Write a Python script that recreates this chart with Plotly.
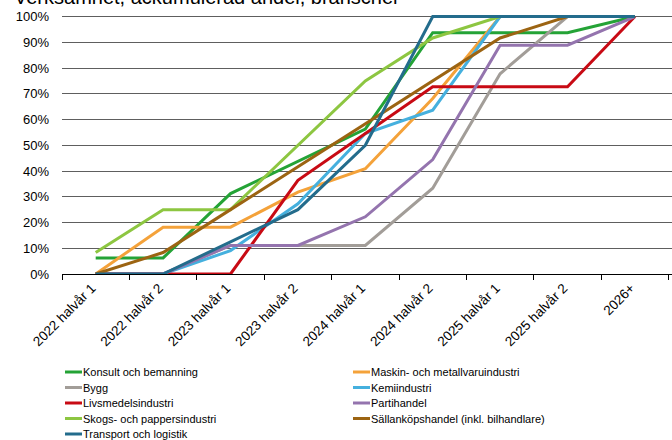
import plotly.graph_objects as go

# Half-year periods on the x axis
periods = ["2022 halvår 1", "2022 halvår 2", "2023 halvår 1", "2023 halvår 2",
           "2024 halvår 1", "2024 halvår 2", "2025 halvår 1", "2025 halvår 2", "2026+"]

# Cumulative share per industry (percent)
konsult = [6.25, 6.25, 31.25, 43.75, 56.25, 93.75, 93.75, 93.75, 100]
maskin = [0, 18.18, 18.18, 31.82, 40.91, 68.18, 100, 100, 100]
bygg = [0, 0, 11.11, 11.11, 11.11, 33.33, 77.78, 100, 100]
kemi = [0, 0, 9.09, 27.27, 54.55, 63.64, 100, 100, 100]
livsmedel = [0, 0, 0, 36.36, 54.55, 72.73, 72.73, 72.73, 100]
partihandel = [0, 0, 11.11, 11.11, 22.22, 44.44, 88.89, 88.89, 100]
skogs = [8.33, 25, 25, 50, 75, 91.67, 100, 100, 100]
sallankop = [0, 8.33, 25, 41.67, 58.33, 75, 91.67, 100, 100]
transport = [0, 0, 12.5, 25, 50, 100, 100, 100, 100]

series_names = ["Konsult och bemanning", "Maskin- och metallvaruindustri", "Bygg",
                "Kemiindustri", "Livsmedelsindustri", "Partihandel",
                "Skogs- och pappersindustri", "Sällanköpshandel (inkl. bilhandlare)",
                "Transport och logistik"]
series_values = [konsult, maskin, bygg, kemi, livsmedel, partihandel, skogs,
                 sallankop, transport]
series_colors = ["#24A336", "#F4A23A", "#A29D98", "#45B0DE", "#C80A14",
                 "#9474AE", "#8DC641", "#9C6412", "#236C8C"]

title_text = "Verksamhet, ackumulerad andel, branscher"

FONT = "Liberation Sans, Arial, sans-serif"
W, H = 672, 440
L, R, T, B = 62, 0, 15, 166
plot_w = W - L - R
plot_h = H - T - B

fig = go.Figure()
for name, vals, col in zip(series_names, series_values, series_colors):
    fig.add_trace(go.Scatter(
        x=periods, y=[v / 100 for v in vals], name=name, mode="lines",
        line=dict(color=col, width=3), showlegend=False,
    ))


def px_to_paper_x(px):
    return (px - L) / plot_w


def px_to_paper_y(py):
    return (H - B - py) / plot_h


# Two-column legend below the plot, filled row by row
shapes = []
annotations = []
row_y = [372, 387.5, 403, 418.5, 434]
col_x = [65, 353]
for i, (name, col) in enumerate(zip(series_names, series_colors)):
    r, c = divmod(i, 2)
    y = px_to_paper_y(row_y[r])
    x0 = col_x[c]
    shapes.append(dict(type="line", xref="paper", yref="paper",
                       x0=px_to_paper_x(x0), x1=px_to_paper_x(x0 + 17), y0=y, y1=y,
                       line=dict(color=col, width=3)))
    annotations.append(dict(text=name, xref="paper", yref="paper",
                            x=px_to_paper_x(x0 + 16), y=y, xanchor="left",
                            yanchor="middle", showarrow=False,
                            font=dict(family=FONT, size=11, color="#000000")))

annotations.append(dict(text=title_text, xref="paper", yref="paper",
                        x=px_to_paper_x(12), y=px_to_paper_y(10),
                        xanchor="left", yanchor="bottom", showarrow=False,
                        font=dict(family=FONT, size=20, color="#000000")))

fig.update_layout(
    width=W, height=H,
    margin=dict(l=L, r=R, t=T, b=B, pad=0),
    paper_bgcolor="white", plot_bgcolor="white",
    font=dict(family=FONT, size=13, color="#000000"),
    shapes=shapes, annotations=annotations,
    showlegend=False,
    xaxis=dict(
        type="category", range=[-0.5, len(periods) - 0.5 + 0.05],
        tickangle=-45, tickson="boundaries", ticks="outside", ticklen=5,
        tickcolor="#000000", showline=True, linecolor="#000000", linewidth=1,
        showgrid=False, tickfont=dict(family=FONT, size=13.5, color="#000000"),
        ticklabelshift=-4,
        fixedrange=True,
    ),
    yaxis=dict(
        range=[0, 1.006], dtick=0.1, tick0=0, tickformat=".0%",
        showgrid=True, gridcolor="#5e5e5e", gridwidth=1, zeroline=False,
        showline=False, ticks="", ticklabelstandoff=12,
        tickfont=dict(family=FONT, size=13, color="#000000"),
        fixedrange=True,
    ),
)

fig.write_html("out.html")
